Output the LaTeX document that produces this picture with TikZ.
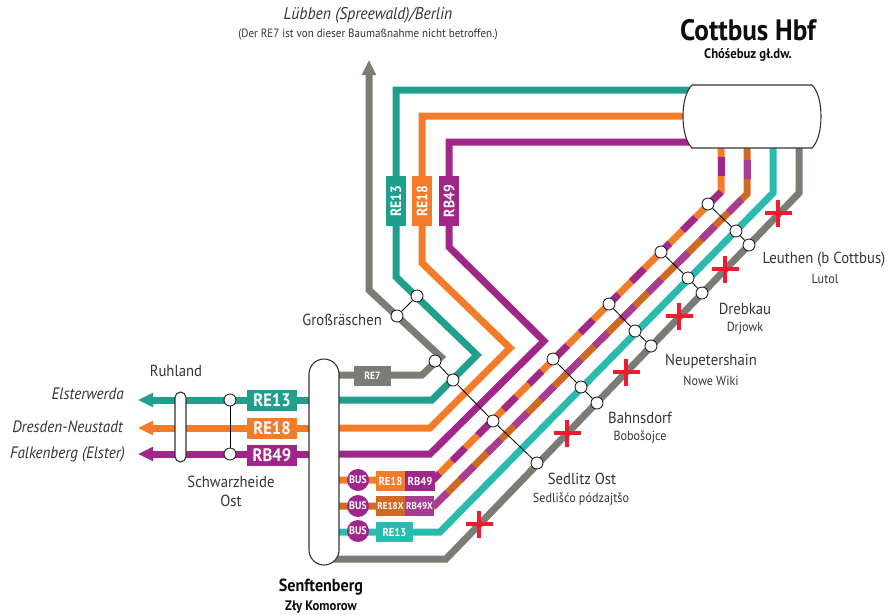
\documentclass[tikz,border=0pt]{standalone}
\usepackage{fontspec}
\setmainfont[FakeStretch=0.92]{PT Sans}
\usetikzlibrary{arrows.meta}
\definecolor{cTeal}{HTML}{1F9F8C}
\definecolor{cTealL}{HTML}{2ABBAE}
\definecolor{cOr}{HTML}{F47B28}
\definecolor{cOrD}{HTML}{CF6A25}
\definecolor{cPu}{HTML}{A1268A}
\definecolor{cPuL}{HTML}{A83C92}
\definecolor{cGr}{HTML}{7B7D75}
\definecolor{cRed}{HTML}{EE1C2E}
\newcommand{\fs}[1]{\fontsize{#1}{#1}\selectfont}
\tikzset{
  x=1pt,y=-1pt,
  track/.style={line width=7pt,line join=miter,miter limit=10},
  link/.style={black,line width=0.8pt},
  halt/.style={circle,draw=black!85,fill=white,line width=0.9pt,minimum size=12pt,inner sep=0pt},
  hub/.style={draw=black!80,fill=white,line width=1.1pt,inner sep=0pt},
  lab/.style={inner sep=0pt,text=white,font=\bfseries,anchor=center},
  bus/.style={circle,fill=cPu,text=white,minimum size=22pt,inner sep=0pt,font=\bfseries\fs{11}},
  nm/.style={inner sep=0pt,font=\fs{16},text=black!80},
  sub/.style={inner sep=0pt,font=\fs{13.2},text=black!80},
  dir/.style={inner sep=0pt,font=\itshape\fs{16.5},text=black!80,anchor=east},
  tip/.style={-{Triangle[length=15pt,width=13.5pt]}},
  cross/.style={cRed,line width=4.5pt}
}
\begin{document}
\begin{tikzpicture}
\useasboundingbox (0,0) rectangle (894,614);

\coordinate (nLub) at (369,60);
\coordinate (nEls) at (138,400);
\coordinate (nDre) at (138,428);
\coordinate (nFal) at (138,454);

% upper tracks
\draw[track,cGr,tip] (339,375) -- (422,375) -- (441,357) -- (369,290) -- (nLub);
\draw[track,cTeal] (700,90) -- (396,90) -- (396,277) -- (477,355) -- (432,400) -- (339,400);
\draw[track,cOr] (700,116) -- (422,116) -- (422,263) -- (510,348) -- (430,428) -- (339,428);
\draw[track,cPu] (700,142) -- (449,142) -- (449,247) -- (544,341) -- (430,454) -- (339,454);

% left tracks
\draw[track,cTeal,tip] (320,400) -- (nEls);
\draw[track,cOr,tip] (320,428) -- (nDre);
\draw[track,cPu,tip] (320,454) -- (nFal);

% lower tracks
\draw[track,cOr] (721,140) -- (721,192) -- (433,480) -- (330,480);
\draw[track,cPu] (721,157) -- (721,176);
\draw[track,cPu,dash pattern=on 18.1pt off 18.1pt] (721,192) -- (433,480);
\draw[track,cOrD] (747,140) -- (747,194) -- (434,506) -- (330,506);
\draw[track,cPuL] (747,160) -- (747,179);
\draw[track,cPuL,dash pattern=on 18.9pt off 18.9pt,dash phase=30.3pt] (747,194) -- (434,506);
\draw[track,cTealL] (773,140) -- (773,193) -- (440,532) -- (330,532);
\draw[track,cGr] (799,140) -- (799,193) -- (446,559) -- (330,559);

% hubs
\node[hub,rounded corners=15pt,minimum width=30pt,minimum height=206pt] (senf) at (324,462) {};
\node[hub,rounded corners=5.5pt,minimum width=11pt,minimum height=70pt] (ruhl) at (180.5,427) {};
\node[inner sep=0pt,minimum width=138pt,minimum height=63pt] (cott) at (752,116.5) {};
\draw[hub] (692,85) -- (812,85) .. controls (818,91) and (821,103) .. (821,116.5)
  .. controls (821,130) and (818,142) .. (812,148) -- (692,148)
  .. controls (686,142) and (683,130) .. (683,116.5)
  .. controls (683,103) and (686,91) .. (692,85) -- cycle;

% line labels
\node[lab,fill=cTeal,minimum width=50pt,minimum height=21pt,font=\bfseries\fs{18}] (l13) at (272,400) {RE13};
\node[lab,fill=cOr,minimum width=50pt,minimum height=21pt,font=\bfseries\fs{18}] (l18) at (272,428) {RE18};
\node[lab,fill=cPu,minimum width=50pt,minimum height=21pt,font=\bfseries\fs{18}] (l49) at (272,455) {RB49};
\node[lab,fill=cGr,minimum width=37pt,minimum height=20pt,font=\bfseries\fs{10.5}] (l7) at (372.5,376) {RE7};
\node[lab,fill=cTeal,rotate=90,minimum width=50pt,minimum height=20pt,font=\bfseries\fs{15}] (v13) at (396,201) {RE13};
\node[lab,fill=cOr,rotate=90,minimum width=50pt,minimum height=20pt,font=\bfseries\fs{15}] (v18) at (422,201) {RE18};
\node[lab,fill=cPu,rotate=90,minimum width=50pt,minimum height=20pt,font=\bfseries\fs{15}] (v49) at (449,201) {RB49};

% bus rows
\node[bus] (b1) at (358,480) {BUS};
\node[bus] (b2) at (358,506) {BUS};
\node[bus] (b3) at (358,531) {BUS};
\node[lab,fill=cOr,minimum width=29pt,minimum height=20pt,font=\bfseries\fs{11.5}] (r18) at (390.5,481) {RE18};
\node[lab,fill=cPu,minimum width=30pt,minimum height=20pt,font=\bfseries\fs{11.5}] (r49) at (420,481) {RB49};
\node[lab,fill=cOrD,minimum width=29pt,minimum height=20pt,font=\bfseries\fs{9.8}] (r18x) at (390.5,506) {RE18X};
\node[lab,fill=cPuL,minimum width=29pt,minimum height=20pt,font=\bfseries\fs{9.8}] (r49x) at (419.5,506) {RB49X};
\node[lab,fill=cTealL,minimum width=37pt,minimum height=20pt,font=\bfseries\fs{11.5}] (r13) at (394.5,532) {RE13};

% stations
\node[halt] (sa) at (230,400) {};
\node[halt] (sb) at (230,454) {};
\draw[link] (sa) -- (sb);
\node[halt] (g1) at (397,316) {};
\node[halt] (g2) at (417,296) {};
\draw[link] (g1) -- (g2);
\node[halt] (s1) at (435,361) {};
\node[halt] (s2) at (453,380) {};
\node[halt] (s3) at (493,421) {};
\node[halt] (s4) at (537,463) {};
\draw[link] (s1) -- (s2);
\draw[link] (s2) -- (s3);
\draw[link] (s3) -- (s4);
\node[halt] (a1) at (553,359) {};
\node[halt] (a2) at (581,387) {};
\node[halt] (a3) at (597,403) {};
\draw[link] (a1) -- (a2);
\draw[link] (a2) -- (a3);
\node[halt] (c1) at (609,304) {};
\node[halt] (c2) at (635,331) {};
\node[halt] (c3) at (651,346) {};
\draw[link] (c1) -- (c2);
\draw[link] (c2) -- (c3);
\node[halt] (d1) at (661,252) {};
\node[halt] (d2) at (688,278) {};
\node[halt] (d3) at (702,293) {};
\draw[link] (d1) -- (d2);
\draw[link] (d2) -- (d3);
\node[halt] (e1) at (708,204) {};
\node[halt] (e2) at (736,231) {};
\node[halt] (e3) at (749,245) {};
\draw[link] (e1) -- (e2);
\draw[link] (e2) -- (e3);

% disruption marks
\foreach \cx/\cy in {778/213,725/269,679/316,626/372,567/433,479/524}{
  \draw[cross] (\cx-13.5,\cy) -- (\cx+13.5,\cy);
  \draw[cross] (\cx,\cy-13.5) -- (\cx,\cy+13.5);
}

% texts
\node[inner sep=0pt,font=\itshape\fs{17},text=black!80] (t1) at (368,15) {Lübben (Spreewald)/Berlin};
\node[inner sep=0pt,font=\fs{12},text=black!80] (t2) at (368,35) {(Der RE7 ist von dieser Baumaßnahme nicht betroffen.)};
\node[inner sep=0pt,font=\bfseries\fs{29.5},text=black!95] (t3) at (748,30) {Cottbus Hbf};
\node[inner sep=0pt,font=\bfseries\fs{13.8},text=black!95] (t4) at (748,55) {Chóśebuz gł.dw.};
\node[nm] (t5) at (176,371) {Ruhland};
\node[dir] (t6) at (124,394) {Elsterwerda};
\node[dir] (t7) at (123,427) {Dresden-Neustadt};
\node[dir] (t8) at (125,454) {Falkenberg (Elster)};
\node[nm] (t9) at (231,482) {Schwarzheide};
\node[nm] (t10) at (231,501) {Ost};
\node[nm,anchor=east] (t11) at (382,320) {Großräschen};
\node[inner sep=0pt,font=\bfseries\fs{17.5},text=black!95] (t12) at (321,587) {Senftenberg};
\node[inner sep=0pt,font=\bfseries\fs{13.8},text=black!95] (t13) at (321,607) {Zły Komorow};
\node[nm] (t14) at (824,260) {Leuthen (b Cottbus)};
\node[sub] (t15) at (825,279) {Lutol};
\node[nm] (t16) at (745,309) {Drebkau};
\node[sub] (t17) at (745,328) {Drjowk};
\node[nm] (t18) at (711,361) {Neupetershain};
\node[sub] (t19) at (711,381) {Nowe Wiki};
\node[nm] (t20) at (640,418) {Bahnsdorf};
\node[sub] (t21) at (640,437) {Bobošojce};
\node[nm] (t22) at (582,479) {Sedlitz Ost};
\node[sub] (t23) at (581,499) {Sedlišćo pódzajtšo};
\end{tikzpicture}
\end{document}
